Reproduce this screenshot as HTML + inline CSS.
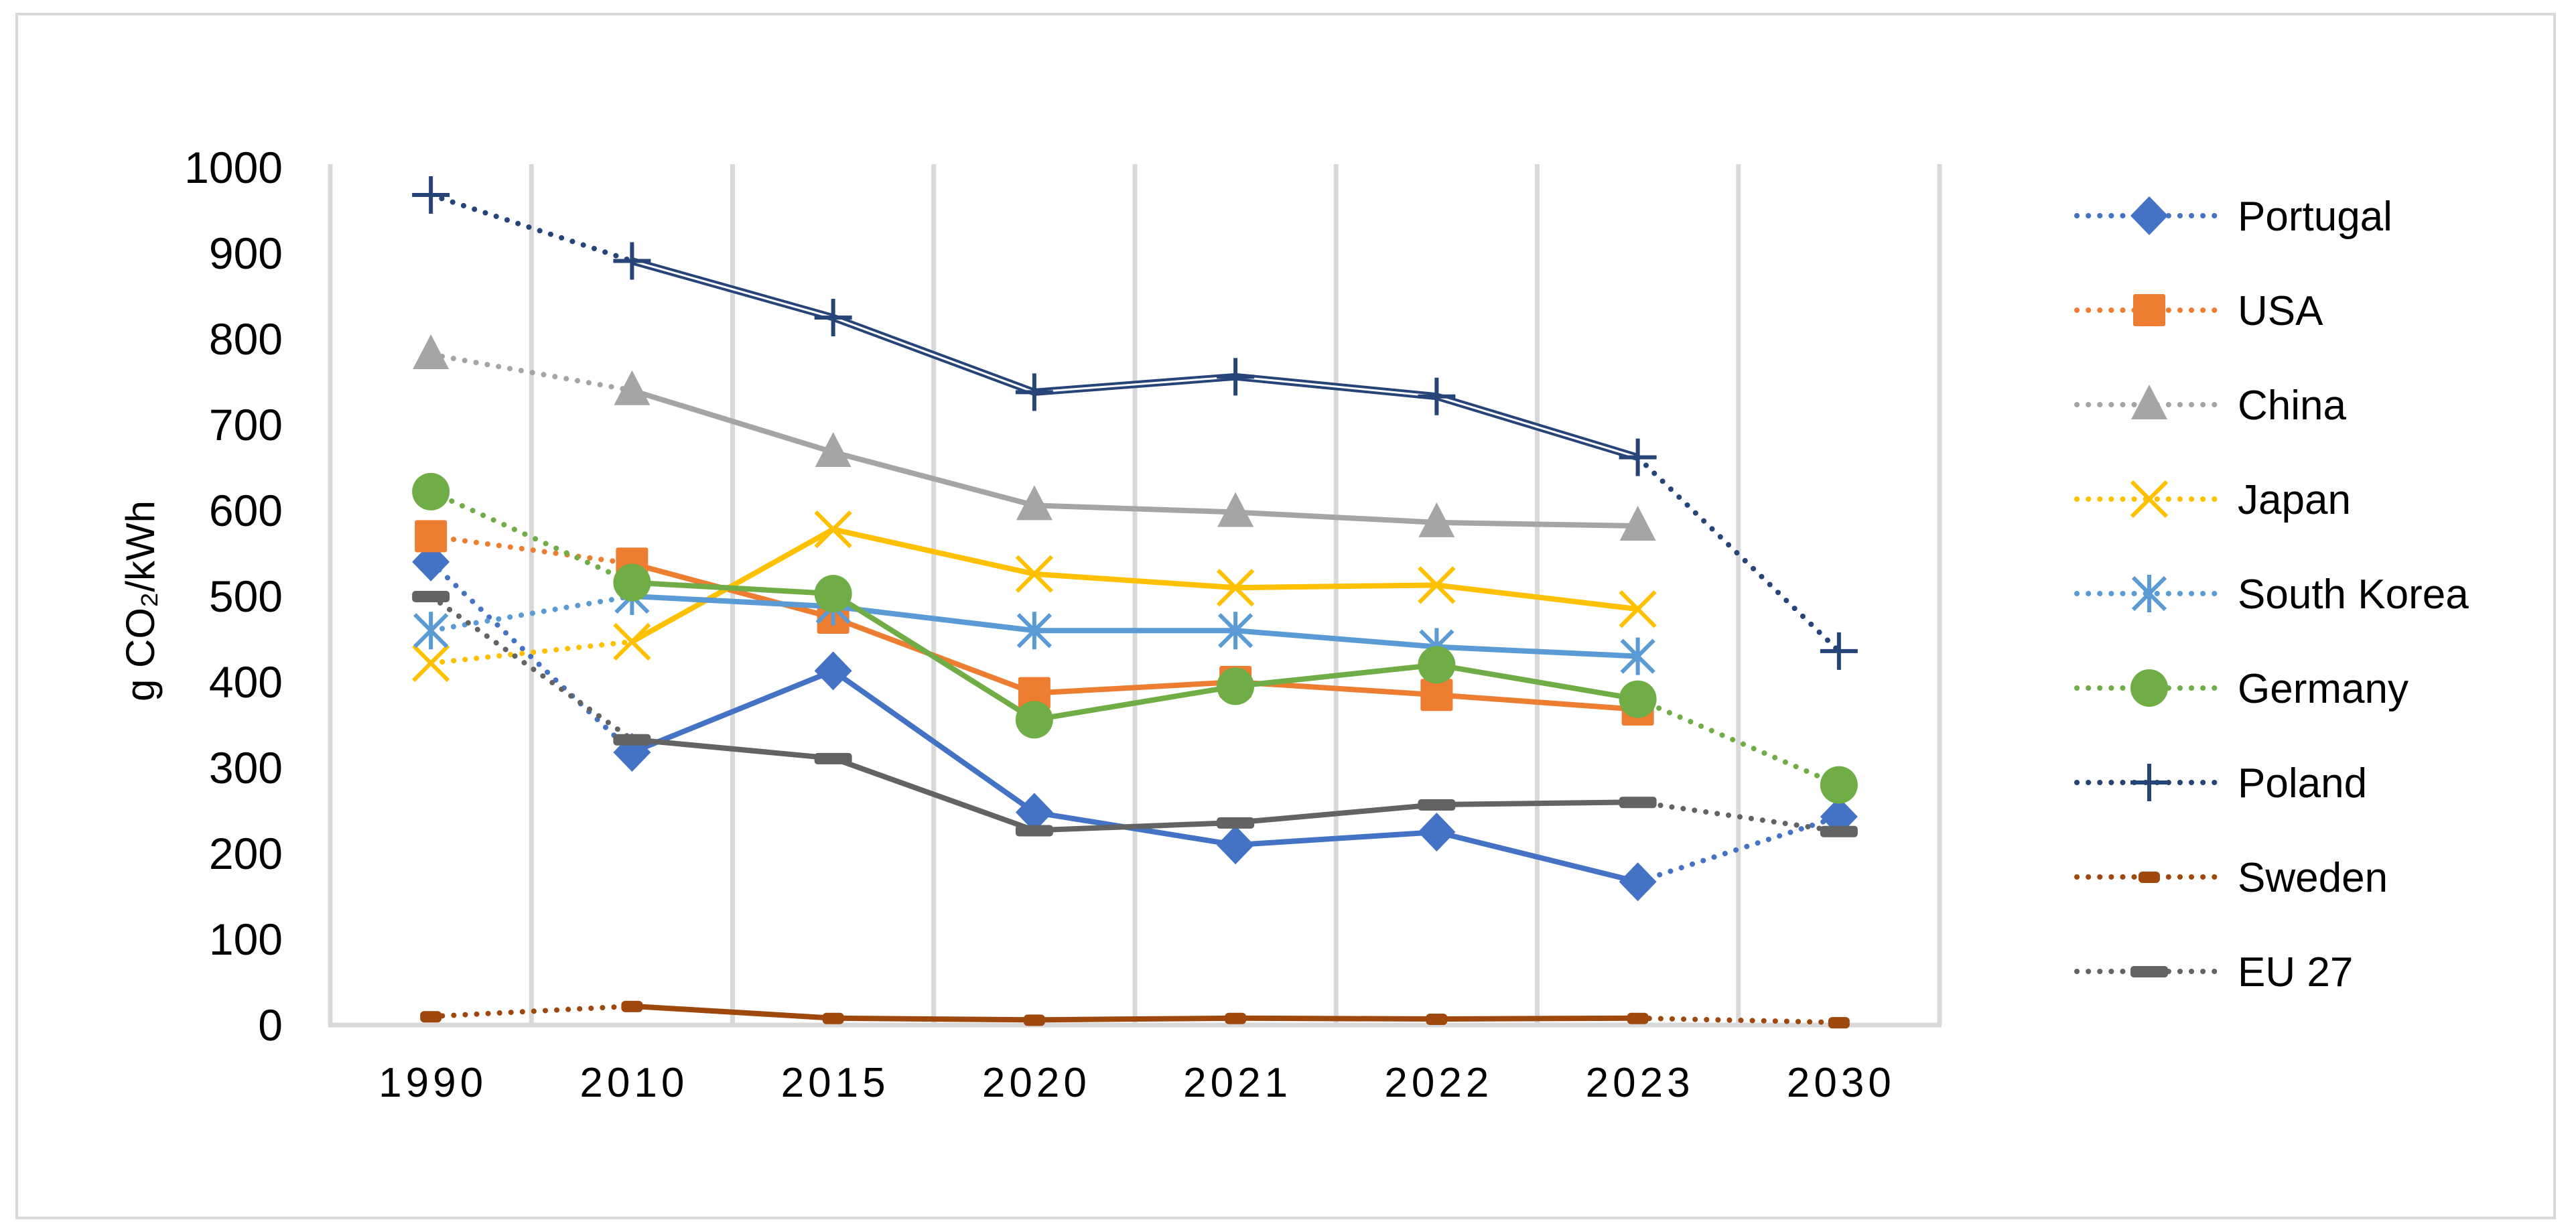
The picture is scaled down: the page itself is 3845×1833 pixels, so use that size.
<!DOCTYPE html>
<html><head><meta charset="utf-8">
<style>
html,body{margin:0;padding:0;background:#fff;}
svg{display:block;font-family:"Liberation Sans",sans-serif;}
</style></head>
<body>
<svg id="chart" width="3845" height="1833" viewBox="0 0 3845 1833" xmlns="http://www.w3.org/2000/svg">
  <rect x="25" y="21" width="3788" height="1797" fill="#fff" stroke="#d9d9d9" stroke-width="4"/>
  <g id="grid"></g>
  <g id="yticks"></g>
  <g id="xticks"></g>
  <text transform="translate(230,897) rotate(-90)" text-anchor="middle" font-size="60" fill="#000">g CO₂/kWh</text>
  <g id="series"></g>
  <g id="legend"></g>
</svg>
<script>
const categories = ["1990","2010","2015","2020","2021","2022","2023","2030"];
const yTicks = [0,100,200,300,400,500,600,700,800,900,1000];
const portugal = [540,318,413,248,210,225,167,243];
const usa = [570,538,475,387,400,385,368,null];
const china = [782,740,668,606,598,586,582,null];
const japan = [422,447,578,526,510,513,485,null];
const southKorea = [460,500,488,460,460,441,430,null];
const germany = [622,516,503,356,395,420,380,280];
const poland = [968,891,825,738,756,733,662,436];
const sweden = [10,22,8,6,8,7,8,3];
const eu27 = [500,333,311,227,236,257,260,226];
const seriesNames = ["Portugal","USA","China","Japan","South Korea","Germany","Poland","Sweden","EU 27"];

const NS="http://www.w3.org/2000/svg";
const L=493,R=2895,T=250,B=1530;
const band=(R-L)/categories.length;
const x=i=>L+band*(i+0.5);
const y=v=>B-(v/1000)*(B-T);
function mk(tag,attrs,parent){const e=document.createElementNS(NS,tag);for(const k in attrs)e.setAttribute(k,attrs[k]);parent.appendChild(e);return e;}

const grid=document.getElementById('grid');
for(let i=1;i<=categories.length;i++){
  const g=mk('line',{x1:L+band*i,x2:L+band*i,y1:T-5,y2:B,stroke:'#d9d9d9','stroke-width':7},grid);
  
  
}
const ax=mk('line',{x1:L,x2:L,y1:T-5,y2:B,stroke:'#d9d9d9','stroke-width':7},grid);


const bx=mk('line',{x1:L-3,x2:R+3,y1:B,y2:B,stroke:'#d9d9d9','stroke-width':7},grid);



const yt=document.getElementById('yticks');
yTicks.forEach(v=>{const t=mk('text',{x:422,y:y(v)+23,'text-anchor':'end','font-size':66,fill:'#000'},yt);t.textContent=v;
  
  });
const xt=document.getElementById('xticks');
categories.forEach((c,i)=>{const t=mk('text',{x:x(i)+3,y:1637,'text-anchor':'middle','font-size':62,'letter-spacing':6,fill:'#000'},xt);t.textContent=c;
  
  });

const styles=[
 {data:portugal,color:'#4472c4',marker:'diamond'},
 {data:usa,color:'#ed7d31',marker:'square'},
 {data:china,color:'#a5a5a5',marker:'triangle'},
 {data:japan,color:'#ffc000',marker:'x'},
 {data:southKorea,color:'#5b9bd5',marker:'star'},
 {data:germany,color:'#70ad47',marker:'circle'},
 {data:poland,color:'#264478',marker:'plus',double:true},
 {data:sweden,color:'#9e480e',marker:'smalldash'},
 {data:eu27,color:'#636363',marker:'dash'}
];
function marker(type,cx,cy,color,p){
  let e;
  if(type==='diamond')e=mk('polygon',{points:`${cx},${cy-29} ${cx+28},${cy} ${cx},${cy+29} ${cx-28},${cy}`,fill:color},p);
  else if(type==='square')e=mk('rect',{x:cx-24,y:cy-24,width:48,height:48,rx:3,fill:color},p);
  else if(type==='triangle')e=mk('polygon',{points:`${cx},${cy-30} ${cx+27},${cy+22} ${cx-27},${cy+22}`,fill:color},p);
  else if(type==='circle')e=mk('circle',{cx:cx,cy:cy,r:28,fill:color},p);
  else if(type==='x')e=mk('path',{d:`M${cx-26},${cy-26}L${cx+26},${cy+26}M${cx+26},${cy-26}L${cx-26},${cy+26}`,stroke:color,'stroke-width':6,fill:'none'},p);
  else if(type==='star')e=mk('path',{d:`M${cx-24},${cy-24}L${cx+24},${cy+24}M${cx+24},${cy-24}L${cx-24},${cy+24}M${cx},${cy-28}L${cx},${cy+28}`,stroke:color,'stroke-width':6,fill:'none'},p);
  else if(type==='plus')e=mk('path',{d:`M${cx-28},${cy}L${cx+28},${cy}M${cx},${cy-28}L${cx},${cy+28}`,stroke:color,'stroke-width':6,fill:'none'},p);
  else if(type==='dash')e=mk('rect',{x:cx-28,y:cy-8,width:56,height:17,rx:5,fill:color},p);
  else if(type==='smalldash')e=mk('rect',{x:cx-16,y:cy-8,width:32,height:17,rx:6,fill:color},p);
  
  
}
const dotted={'stroke-dasharray':'0.1 17','stroke-linecap':'round','stroke-width':8};
const sl=document.getElementById('series');
styles.forEach((s,si)=>{
  const g=mk('g',{},sl);
  
  
  const d=s.data;
  for(let i=0;i<d.length-1;i++){
    if(d[i]==null||d[i+1]==null)continue;
    const seg={x1:x(i),y1:y(d[i]),x2:x(i+1),y2:y(d[i+1]),stroke:s.color,fill:'none'};
    const isDot=(i===0||i===6);
    let ln;
    if(isDot){ln=mk('line',Object.assign(seg,dotted),g);}
    else if(s.double){ln=mk('line',Object.assign({},seg,{'stroke-width':11}),g);
      const w=mk('line',Object.assign({},seg,{stroke:'#fff','stroke-width':3}),g);
      
      }
    else ln=mk('line',Object.assign(seg,{'stroke-width':8}),g);
    
    
  }
  d.forEach((v,i)=>{if(v!=null)marker(s.marker,x(i),y(v),s.color,g);});
});

const lg=document.getElementById('legend');
styles.forEach((s,i)=>{
  const cy=322+i*141;
  const g=mk('g',{},lg);
  
  
  const ln=mk('line',Object.assign({x1:3100,x2:3306,y1:cy,y2:cy,stroke:s.color},dotted),g);
  
  
  marker(s.marker,3208,cy,s.color,g);
  const t=mk('text',{x:3340,y:cy+22,'font-size':62,fill:'#000'},g);
  t.textContent=seriesNames[i];
  
  
});
</script>
</body></html>
